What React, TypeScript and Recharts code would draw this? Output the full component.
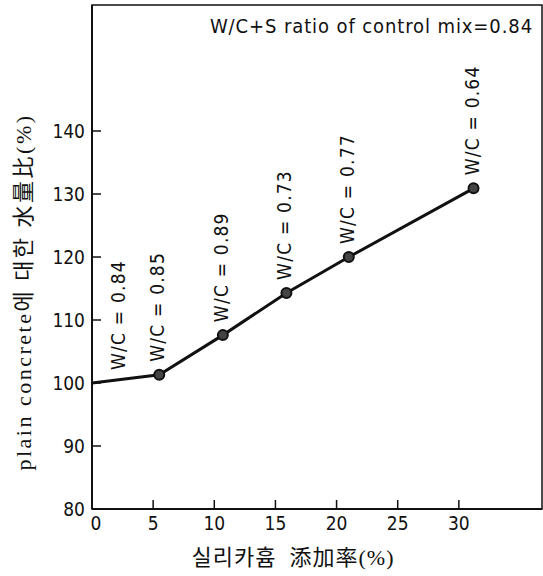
import React from 'react';
import { LineChart, Line, XAxis, YAxis, ReferenceArea, LabelList } from 'recharts';

// Data
const silicaFume = [0, 5.5, 10.7, 15.9, 21.0, 31.2];
const waterRatio = [100, 101.3, 107.6, 114.3, 120.0, 130.9];
const wcLabels = ['W/C = 0.84', 'W/C = 0.85', 'W/C = 0.89', 'W/C = 0.73', 'W/C = 0.77', 'W/C = 0.64'];
const xTicks = [0, 5, 10, 15, 20, 25, 30];
const yTicks = [80, 90, 100, 110, 120, 130, 140];
const controlNote = 'W/C+S ratio of control mix=0.84';
const xTitle = '실리카흄  添加率(%)';
const yTitle = 'plain concrete에 대한 水量比(%)';

const data = silicaFume.map((x, i) => ({ x, y: waterRatio[i], wc: wcLabels[i] }));

const NARROW = "'Liberation Sans Narrow', 'DejaVu Sans Condensed', 'Liberation Sans', sans-serif";
const SERIF = "'Liberation Serif', 'Noto Sans CJK KR', serif";
const INK = '#111';

const XTick = (p: any) => {
  const { x, y, payload } = p;
  const v = payload.value;
  return (
    <g>
      {v !== 0 && <line x1={x} y1={y} x2={x} y2={y - 9} stroke={INK} strokeWidth={1.5} />}
      <text x={v === 0 ? x + 4 : x} y={y + 21} textAnchor="middle" fontFamily={NARROW} fontSize={19} fill={INK}>
        {v}
      </text>
    </g>
  );
};

const YTick = (p: any) => {
  const { x, y, payload } = p;
  return (
    <g>
      <line x1={x} y1={y} x2={x + 9} y2={y} stroke={INK} strokeWidth={1.5} />
      <text x={x - 7} y={y + 7} textAnchor="end" fontFamily={NARROW} fontSize={19} fill={INK}>
        {payload.value}
      </text>
    </g>
  );
};

const WcLabel = (p: any) => {
  const vb = p.viewBox || {};
  const x = p.x ?? vb.x;
  const y = p.y ?? vb.y;
  const cx = p.index === 0 ? x + 26 : x - 2;
  const by = y - 13;
  return (
    <text
      x={cx}
      y={by}
      transform={`rotate(-90 ${cx} ${by})`}
      dominantBaseline="central"
      fontFamily={NARROW}
      fontSize={19}
      letterSpacing={1.2}
      fill={INK}
    >
      {p.value}
    </text>
  );
};

const Dot = (p: any) => {
  const { cx, cy, index } = p;
  if (index === 0) return <g key={`d${index}`} />;
  return <circle key={`d${index}`} cx={cx} cy={cy} r={5} fill="#444" stroke={INK} strokeWidth={2} />;
};

export default function App() {
  return (
    <div style={{ position: 'absolute', left: 0, top: 0, width: 543, height: 576, background: '#fff' }}>
      <LineChart width={543} height={576} data={data} margin={{ top: 5, right: 1, bottom: 0, left: 0 }}>
        <XAxis
          type="number"
          dataKey="x"
          domain={[0, 36.8]}
          ticks={xTicks}
          allowDataOverflow
          height={67}
          tickSize={0}
          tickMargin={0}
          tickLine={false}
          tick={<XTick />}
          axisLine={{ stroke: INK, strokeWidth: 2 }}
          label={{
            content: () => (
              <text
                x={293}
                y={565}
                textAnchor="middle"
                fontFamily={SERIF}
                fontSize={22}
                letterSpacing={1}
                style={{ whiteSpace: 'pre' }}
                fill={INK}
              >
                {xTitle}
              </text>
            ),
          }}
        />
        <YAxis
          type="number"
          domain={[80, 160]}
          ticks={yTicks}
          allowDataOverflow
          width={92}
          tickSize={0}
          tickMargin={0}
          tickLine={false}
          tick={<YTick />}
          axisLine={{ stroke: INK, strokeWidth: 2 }}
          label={{
            content: () => (
              <text
                x={23}
                y={292}
                transform="rotate(-90 23 292)"
                textAnchor="middle"
                dominantBaseline="central"
                fontFamily={SERIF}
                fontSize={22}
                letterSpacing={2.5}
                fill={INK}
              >
                {yTitle}
              </text>
            ),
          }}
        />
        <ReferenceArea
          x1={0}
          x2={36.8}
          y1={80}
          y2={160}
          fill="none"
          fillOpacity={0}
          stroke={INK}
          strokeWidth={1.5}
          label={{
            content: () => (
              <text x={533} y={33} textAnchor="end" fontFamily={NARROW} fontSize={20} letterSpacing={0.9} fill={INK}>
                {controlNote}
              </text>
            ),
          }}
        />
        <Line
          type="linear"
          dataKey="y"
          stroke={INK}
          strokeWidth={3}
          dot={<Dot />}
          activeDot={false}
          isAnimationActive={false}
        >
          <LabelList dataKey="wc" content={<WcLabel />} />
        </Line>
      </LineChart>
    </div>
  );
}
